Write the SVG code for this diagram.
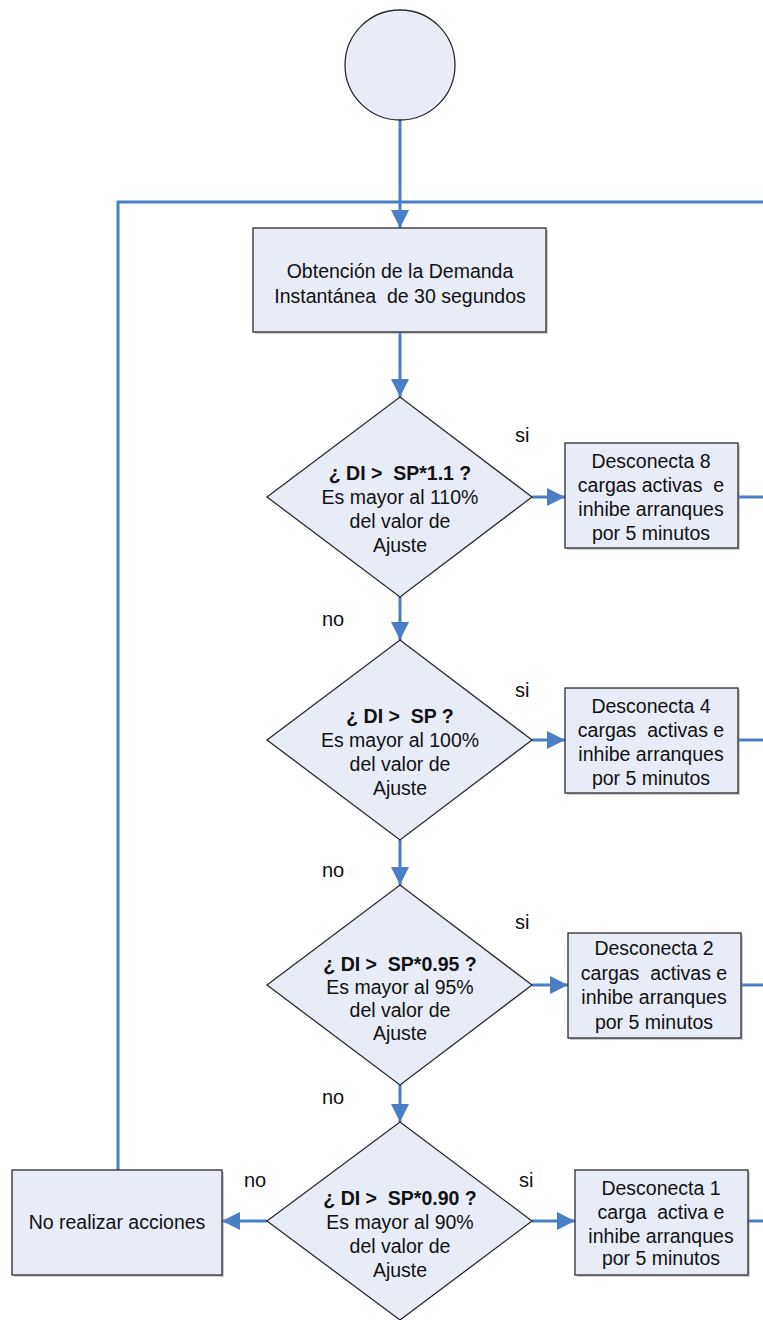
<svg xmlns="http://www.w3.org/2000/svg" width="763" height="1320" viewBox="0 0 763 1320" xml:space="preserve">
  <style>
    .shape { fill: #E8ECF7; stroke: #2b2b2b; stroke-width: 1.3; }
    .shadow { fill: #9a9a9a; stroke: none; opacity: 0.5; }
    .wire { fill: none; stroke: #4A7EC5; stroke-width: 3; }
    text { font-family: "Liberation Sans", Arial, sans-serif; font-size: 19.5px; fill: #111; text-anchor: middle; white-space: pre; }
    .b { font-weight: bold; }
    .lbl { text-anchor: start; font-size: 20px; }
  </style>
  <defs>
    <marker id="arrow" viewBox="0 0 18 18" refX="18" refY="9" markerWidth="18" markerHeight="18" markerUnits="userSpaceOnUse" orient="auto">
      <path d="M0,0 L18,9 L0,18 Z" fill="#4A7EC5"/>
    </marker>
  </defs>

  <!-- connectors -->
  <g id="connectors">
    <line class="wire" x1="400" y1="120" x2="400" y2="228" marker-end="url(#arrow)"/>
    <polyline class="wire" points="118,1170 118,202 763,202"/>
    <line class="wire" x1="400" y1="332" x2="400" y2="397" marker-end="url(#arrow)"/>
    <line class="wire" x1="400" y1="597" x2="400" y2="640" marker-end="url(#arrow)"/>
    <line class="wire" x1="400" y1="840" x2="400" y2="885" marker-end="url(#arrow)"/>
    <line class="wire" x1="400" y1="1085" x2="400" y2="1122" marker-end="url(#arrow)"/>
    <line class="wire" x1="532" y1="497" x2="565" y2="497" marker-end="url(#arrow)"/>
    <line class="wire" x1="532" y1="740" x2="565" y2="740" marker-end="url(#arrow)"/>
    <line class="wire" x1="532" y1="985" x2="568" y2="985" marker-end="url(#arrow)"/>
    <line class="wire" x1="532" y1="1221" x2="575" y2="1221" marker-end="url(#arrow)"/>
    <line class="wire" x1="267" y1="1221" x2="222" y2="1221" marker-end="url(#arrow)"/>
    <line class="wire" x1="738" y1="497" x2="763" y2="497"/>
    <line class="wire" x1="738" y1="740" x2="763" y2="740"/>
    <line class="wire" x1="741" y1="985" x2="763" y2="985"/>
    <line class="wire" x1="748" y1="1221" x2="763" y2="1221"/>
  </g>

  <!-- branch labels -->
  <g id="labels">
    <text class="lbl" x="515" y="442">si</text>
    <text class="lbl" x="515" y="697">si</text>
    <text class="lbl" x="515" y="929">si</text>
    <text class="lbl" x="519" y="1187">si</text>
    <text class="lbl" x="322" y="626">no</text>
    <text class="lbl" x="322" y="877">no</text>
    <text class="lbl" x="322" y="1104">no</text>
    <text class="lbl" x="244" y="1187">no</text>
  </g>

  <g id="start">
    <circle class="shape" cx="400" cy="65" r="55"/>
  </g>

  <g id="obtencion">
    <rect class="shadow" x="255" y="230" width="293" height="104"/>
    <rect class="shape" x="253" y="228" width="293" height="104"/>
    <text x="400" y="278">Obtención de la Demanda</text>
    <text x="400" y="303">Instantánea  de 30 segundos</text>
  </g>

  <g id="decision1">
    <polygon class="shape" points="400,397 532,497 400,597 267,497"/>
    <text class="b" x="400" y="480">¿ DI &gt;  SP*1.1 ?</text>
    <text x="400" y="504">Es mayor al 110%</text>
    <text x="400" y="528">del valor de</text>
    <text x="400" y="552">Ajuste</text>
  </g>

  <g id="action8">
    <rect class="shadow" x="567" y="445" width="173" height="105"/>
    <rect class="shape" x="565" y="443" width="173" height="105"/>
    <text x="651" y="468">Desconecta 8</text>
    <text x="651" y="492">cargas activas  e</text>
    <text x="651" y="516">inhibe arranques</text>
    <text x="651" y="540">por 5 minutos</text>
  </g>

  <g id="decision2">
    <polygon class="shape" points="400,640 532,740 400,840 267,740"/>
    <text class="b" x="400" y="723">¿ DI &gt;  SP ?</text>
    <text x="400" y="747">Es mayor al 100%</text>
    <text x="400" y="771">del valor de</text>
    <text x="400" y="795">Ajuste</text>
  </g>

  <g id="action4">
    <rect class="shadow" x="567" y="690" width="173" height="105"/>
    <rect class="shape" x="565" y="688" width="173" height="105"/>
    <text x="651" y="713">Desconecta 4</text>
    <text x="651" y="737">cargas  activas e</text>
    <text x="651" y="761">inhibe arranques</text>
    <text x="651" y="785">por 5 minutos</text>
  </g>

  <g id="decision3">
    <polygon class="shape" points="400,885 532,985 400,1085 267,985"/>
    <text class="b" x="400" y="971">¿ DI &gt;  SP*0.95 ?</text>
    <text x="400" y="994">Es mayor al 95%</text>
    <text x="400" y="1017">del valor de</text>
    <text x="400" y="1040">Ajuste</text>
  </g>

  <g id="action2">
    <rect class="shadow" x="570" y="935" width="173" height="105"/>
    <rect class="shape" x="568" y="933" width="173" height="105"/>
    <text x="654" y="955">Desconecta 2</text>
    <text x="654" y="980">cargas  activas e</text>
    <text x="654" y="1004">inhibe arranques</text>
    <text x="654" y="1029">por 5 minutos</text>
  </g>

  <g id="decision4">
    <polygon class="shape" points="400,1122 532,1221 400,1320 267,1221"/>
    <text class="b" x="400" y="1205">¿ DI &gt;  SP*0.90 ?</text>
    <text x="400" y="1229">Es mayor al 90%</text>
    <text x="400" y="1253">del valor de</text>
    <text x="400" y="1277">Ajuste</text>
  </g>

  <g id="action1">
    <rect class="shadow" x="577" y="1172" width="173" height="105"/>
    <rect class="shape" x="575" y="1170" width="173" height="105"/>
    <text x="661" y="1195">Desconecta 1</text>
    <text x="661" y="1219">carga  activa e</text>
    <text x="661" y="1243">inhibe arranques</text>
    <text x="661" y="1265">por 5 minutos</text>
  </g>

  <g id="noaction">
    <rect class="shadow" x="14" y="1172" width="210" height="105"/>
    <rect class="shape" x="12" y="1170" width="210" height="105"/>
    <text x="117" y="1229">No realizar acciones</text>
  </g>
</svg>
